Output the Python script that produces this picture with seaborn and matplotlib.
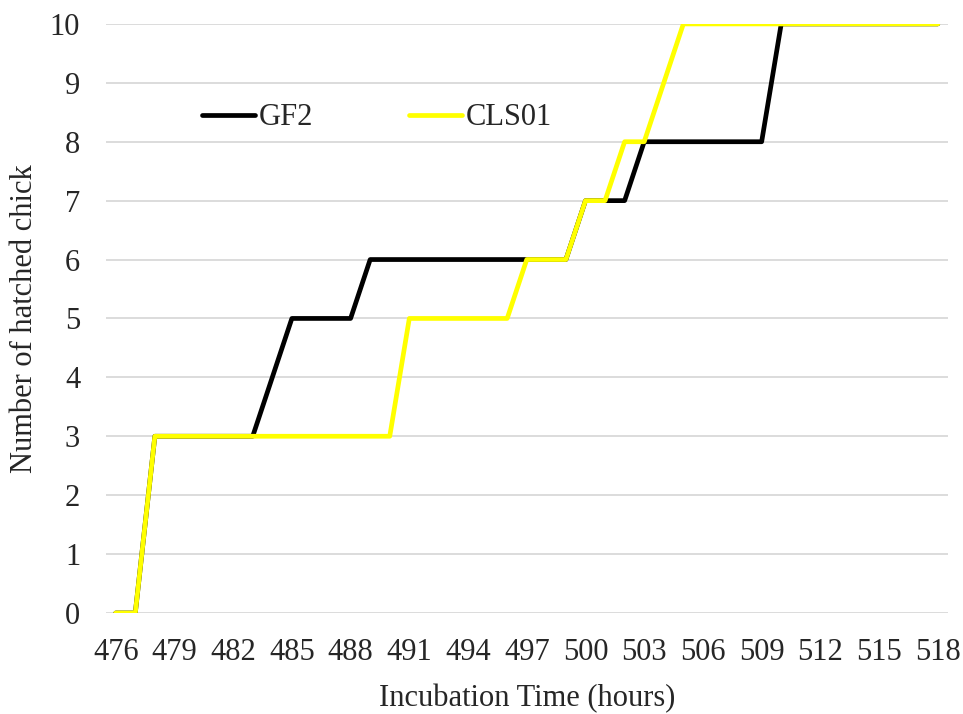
import numpy as np
import pandas as pd
import matplotlib
matplotlib.use("Agg")
import matplotlib.pyplot as plt
import seaborn as sns
from matplotlib.lines import Line2D

hours = list(range(476, 519))
gf2 = [0, 0, 3, 3, 3, 3, 3, 3, 4, 5, 5, 5, 5, 6, 6, 6, 6, 6, 6, 6, 6, 6,
       6, 6, 7, 7, 7, 8, 8, 8, 8, 8, 8, 8, 10, 10, 10, 10, 10, 10, 10, 10, 10]
cls01 = [0, 0, 3, 3, 3, 3, 3, 3, 3, 3, 3, 3, 3, 3, 3, 5, 5, 5, 5, 5, 5, 6,
         6, 6, 7, 7, 8, 8, 9, 10, 10, 10, 10, 10, 10, 10, 10, 10, 10, 10, 10, 10, 10]
series_names = ["GF2", "CLS01"]
colors = ["#000000", "#FFFF00"]
xticks = list(range(476, 519, 3))
yticks = list(range(0, 11))

df = pd.DataFrame({
    "hour": hours * 2,
    "count": gf2 + cls01,
    "series": [series_names[0]] * len(hours) + [series_names[1]] * len(hours),
})

sns.set_style("white")
plt.rcParams["font.family"] = ["Liberation Serif", "DejaVu Serif"]

FS = 22
LW = 3.4
fig = plt.figure(figsize=(9.63, 7.14), dpi=100)
ax = fig.add_axes([0.110, 0.1415, 0.874, 0.825])

for y in yticks:
    ax.axhline(y, color="#d9d9d9", lw=1.3, zorder=0)

sns.lineplot(data=df, x="hour", y="count", hue="series", palette=colors,
             hue_order=series_names, lw=LW, ax=ax, legend=False, zorder=3)

ax.set_xlim(475.5, 518.5)
ax.set_ylim(0, 10)
ax.set_xticks(xticks)
ax.set_yticks(yticks)
ax.tick_params(axis="x", labelsize=FS, length=0, pad=18)
ax.tick_params(axis="y", labelsize=FS, length=0, pad=18.5)
ax.set_xlabel("Incubation Time (hours)", fontsize=FS, labelpad=12)
ax.set_ylabel("Number of hatched chick", fontsize=FS, labelpad=8)
for s in ax.spines.values():
    s.set_visible(False)

handles = [Line2D([0], [0], color=c, lw=LW) for c in colors]
ax.legend(handles, series_names, loc="center left", bbox_to_anchor=(0.114, 0.8404),
          ncol=2, frameon=False, fontsize=FS, handlelength=1.73,
          columnspacing=3.14, handletextpad=0.13, borderpad=0, borderaxespad=0)

fig.savefig("out.png", dpi=100)
